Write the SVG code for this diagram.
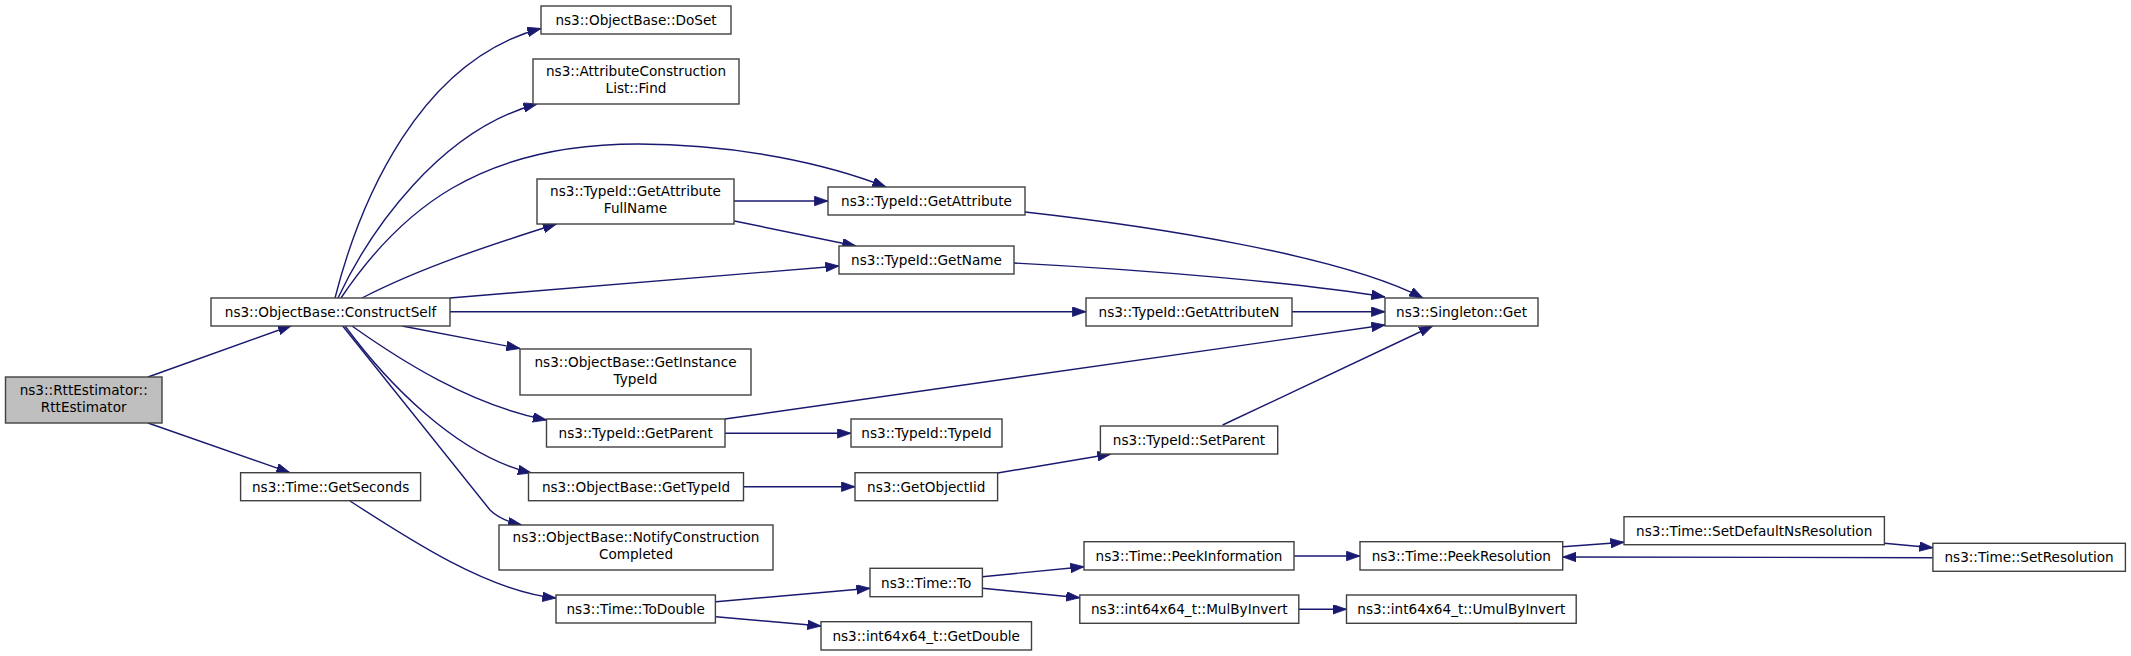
<svg xmlns="http://www.w3.org/2000/svg" width="2131" height="656" viewBox="0 0 2131 656">
<style>
.n rect{fill:#ffffff;stroke:#404040;stroke-width:1.4}
.n.root rect{fill:#bfbfbf}
.n text{font-family:"DejaVu Sans","Liberation Sans",sans-serif;font-size:13.6px;fill:#000000;text-anchor:middle}
.e path{fill:none;stroke:#191970;stroke-width:1.4;marker-end:url(#arr)}
</style>
<defs>
<marker id="arr" markerUnits="userSpaceOnUse" markerWidth="14" markerHeight="10" refX="13.6" refY="4.8" orient="auto">
<path d="M0,0 L13.6,4.8 L0,9.6 z" fill="#191970" stroke="#191970" stroke-width="0.8"/>
</marker>
</defs>
<rect width="2131" height="656" fill="#ffffff"/>
<g id="edges" class="e">
<path d="M148,377 L291.6,325.5"/>
<path d="M148,423 L290,472.7"/>
<path d="M350,501 C410,540 490,592 556,598"/>
<path d="M335,298 C360,200 420,60 541,28.5"/>
<path d="M338,298 C370,230 440,130 537,104"/>
<path d="M341,298 C400,210 480,144 638,144 C740,144 830,165 886,187"/>
<path d="M362,298 C420,268 490,245 556.5,224"/>
<path d="M450,298 L839,266"/>
<path d="M450,311.7 L1086,311.7"/>
<path d="M402,326 L520,348.5"/>
<path d="M352,326 C400,360 470,405 546.5,420"/>
<path d="M345,326 C385,380 455,455 531.5,473"/>
<path d="M342.7,326 L490,510 C498,518 508,522 521.7,525"/>
<path d="M734,201 L828,201"/>
<path d="M734.4,221 L856,246"/>
<path d="M1025,212 C1150,226 1340,255 1423,298"/>
<path d="M1014,263 C1150,270 1300,283 1385,297"/>
<path d="M1292,311.7 L1385,311.7"/>
<path d="M725,419 L1385,325"/>
<path d="M1222.6,425 L1432.6,326"/>
<path d="M725,433.3 L851,433.3"/>
<path d="M743.6,486.7 L855,486.7"/>
<path d="M997.6,473 L1111,454"/>
<path d="M716,601.7 L870,588.3"/>
<path d="M716,616.7 L821,626"/>
<path d="M982.4,576.7 L1084,566.7"/>
<path d="M982.4,588.3 L1079.8,597.7"/>
<path d="M1294,556 L1360,556"/>
<path d="M1299,609.3 L1346.5,609.3"/>
<path d="M1562.7,546.7 L1624,542.3"/>
<path d="M1884.4,543.3 L1932.9,547.7"/>
<path d="M1932.9,557.7 L1562.7,557"/>
</g>
<g id="n_rtt" class="n root"><rect x="5.5" y="377" width="156.5" height="46"/><text x="83.7" y="394.5">ns3::RttEstimator::</text><text x="83.7" y="411.8">RttEstimator</text></g>
<g id="n_cs" class="n"><rect x="211" y="298" width="239" height="28"/><text x="330.5" y="317">ns3::ObjectBase::ConstructSelf</text></g>
<g id="n_gs" class="n"><rect x="240.6" y="472.7" width="180" height="28"/><text x="330.6" y="491.7">ns3::Time::GetSeconds</text></g>
<g id="n_doset" class="n"><rect x="541" y="6" width="190" height="28"/><text x="636" y="25">ns3::ObjectBase::DoSet</text></g>
<g id="n_find" class="n"><rect x="533" y="59" width="206" height="45"/><text x="636" y="76">ns3::AttributeConstruction</text><text x="636" y="93.3">List::Find</text></g>
<g id="n_gafn" class="n"><rect x="537" y="179" width="197" height="45"/><text x="635.5" y="196">ns3::TypeId::GetAttribute</text><text x="635.5" y="213.3">FullName</text></g>
<g id="n_ga" class="n"><rect x="828" y="187" width="197" height="28"/><text x="926.5" y="206">ns3::TypeId::GetAttribute</text></g>
<g id="n_gn" class="n"><rect x="839" y="246" width="175" height="28"/><text x="926.5" y="265">ns3::TypeId::GetName</text></g>
<g id="n_gan" class="n"><rect x="1086" y="298" width="206" height="28"/><text x="1189" y="317">ns3::TypeId::GetAttributeN</text></g>
<g id="n_sg" class="n"><rect x="1385" y="298" width="153" height="28"/><text x="1461.5" y="317">ns3::Singleton::Get</text></g>
<g id="n_giti" class="n"><rect x="520" y="349" width="231" height="46"/><text x="635.5" y="366.5">ns3::ObjectBase::GetInstance</text><text x="635.5" y="383.8">TypeId</text></g>
<g id="n_gp" class="n"><rect x="546.5" y="419" width="178.5" height="28"/><text x="635.7" y="438">ns3::TypeId::GetParent</text></g>
<g id="n_gti" class="n"><rect x="528.5" y="472.7" width="215" height="28"/><text x="636" y="491.7">ns3::ObjectBase::GetTypeId</text></g>
<g id="n_ncc" class="n"><rect x="499" y="525" width="274" height="45"/><text x="636" y="542">ns3::ObjectBase::NotifyConstruction</text><text x="636" y="559.3">Completed</text></g>
<g id="n_td" class="n"><rect x="556" y="595" width="159.4" height="28"/><text x="635.7" y="614">ns3::Time::ToDouble</text></g>
<g id="n_tid" class="n"><rect x="851" y="419" width="151" height="28"/><text x="926.5" y="438">ns3::TypeId::TypeId</text></g>
<g id="n_sp" class="n"><rect x="1100.4" y="426" width="177.3" height="28"/><text x="1189" y="445">ns3::TypeId::SetParent</text></g>
<g id="n_goi" class="n"><rect x="855" y="472.7" width="142.6" height="28"/><text x="926.3" y="491.7">ns3::GetObjectIid</text></g>
<g id="n_pi" class="n"><rect x="1084" y="541.7" width="210" height="28.3"/><text x="1189" y="560.8">ns3::Time::PeekInformation</text></g>
<g id="n_to" class="n"><rect x="870" y="568.3" width="112.4" height="28.4"/><text x="926.2" y="587.5">ns3::Time::To</text></g>
<g id="n_mbi" class="n"><rect x="1079.8" y="595" width="219" height="28.3"/><text x="1189.3" y="614">ns3::int64x64_t::MulByInvert</text></g>
<g id="n_gd" class="n"><rect x="821" y="621.7" width="210.5" height="28.3"/><text x="926.2" y="640.8">ns3::int64x64_t::GetDouble</text></g>
<g id="n_pr" class="n"><rect x="1360" y="541.7" width="202.7" height="28.3"/><text x="1461.3" y="560.8">ns3::Time::PeekResolution</text></g>
<g id="n_ubi" class="n"><rect x="1346.5" y="595" width="229.7" height="28.3"/><text x="1461.3" y="614">ns3::int64x64_t::UmulByInvert</text></g>
<g id="n_sdr" class="n"><rect x="1624" y="516.7" width="260.4" height="28"/><text x="1754.2" y="535.7">ns3::Time::SetDefaultNsResolution</text></g>
<g id="n_sr" class="n"><rect x="1932.9" y="543.3" width="192.5" height="28"/><text x="2029.1" y="562.3">ns3::Time::SetResolution</text></g>
</svg>
